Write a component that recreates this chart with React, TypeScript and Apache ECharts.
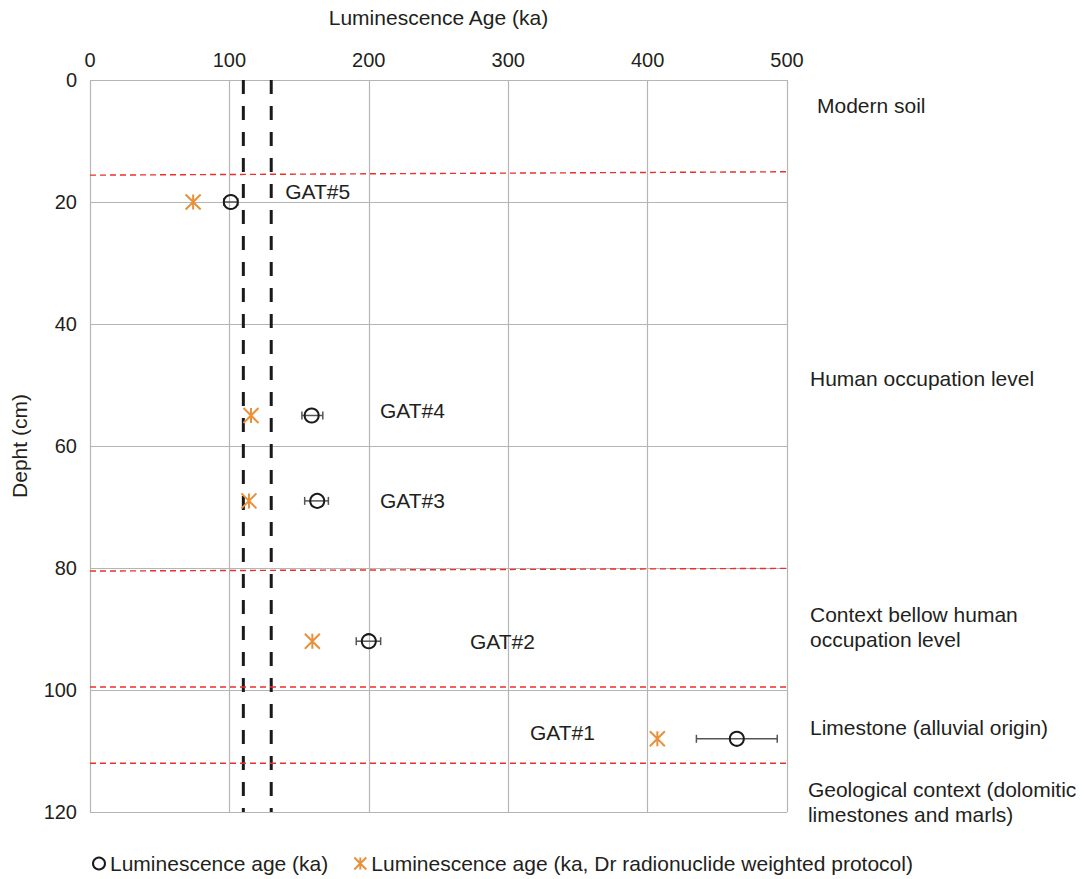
import React, { useEffect, useRef } from "react";
import * as echarts from "echarts";

// Sample depths (cm) and ages (ka)
const sampleNames = ["GAT#5", "GAT#4", "GAT#3", "GAT#2", "GAT#1"];
const sampleDepths = [20, 55, 69, 92, 108];
const ageLuminescence = [101, 159, 163, 200, 464];
const ageLow = [96, 152, 154, 191, 435];
const ageHigh = [106, 167, 171, 208.5, 493];
const ageDrWeighted = [74, 115.5, 114, 159.5, 407];

// Reference ages (ka) drawn as vertical dashed lines
const referenceAges = [110, 130];

// Stratigraphic boundaries: depth at the left edge, depth at the far end, age where the line stops
const boundaryDepthStart = [15.6, 80.5, 99.5, 112];
const boundaryDepthEnd = [14.9, 79.95, 99.5, 112];
const boundaryEndAge = [627.7, 625.5, 635.6, 635.6];

// Sample label anchors (age ka, depth cm)
const sampleLabelAge = [140, 208, 208, 272.6, 315.6];
const sampleLabelDepth = [18.2, 54.1, 68.9, 92.1, 107];

// Stratigraphic unit names and anchors
const unitNames = [
  "Modern soil",
  "Human occupation level",
  "Context bellow human\noccupation level",
  "Limestone (alluvial origin)",
  "Geological context (dolomitic\nlimestones and marls)",
];
const unitLabelAge = [521.5, 516.5, 516.5, 516.5, 515];
const unitLabelDepth = [4.1, 48.9, 89.7, 106.2, 118.4];

const xTicks = { min: 0, max: 500, interval: 100 };
const yTicks = { min: 0, max: 120, interval: 20 };

const FONT = "'Liberation Sans', Arial, Helvetica, sans-serif";
const TEXT = "#231f20";
const GRID = "#b5b5b5";
const ORANGE = "#e8913a";
const RED = "#e8302c";

const SERIES_A = "Luminescence age (ka)";
const SERIES_B = "Luminescence age (ka, Dr radionuclide weighted protocol)";

const ASTERISK = "path://M0,-1L0,1M-1,-1L1,1M-1,1L1,-1";

export default function App() {
  const ref = useRef<HTMLDivElement>(null);

  useEffect(() => {
    if (!ref.current) return;
    const chart = echarts.init(ref.current, undefined, { renderer: "svg" });

    const referenceSeries = referenceAges.map((a, i) => ({
      name: "ref" + i,
      type: "line",
      data: [
        [a, yTicks.min],
        [a, yTicks.max],
      ],
      symbol: "none",
      silent: true,
      z: 3,
      lineStyle: { color: "#1a1a1a", width: 3, type: [14, 12] },
    }));

    const boundarySeries = boundaryDepthStart.map((d, i) => ({
      name: "boundary" + i,
      type: "line",
      data: [
        [xTicks.min, d],
        [boundaryEndAge[i], boundaryDepthEnd[i]],
      ],
      symbol: "none",
      silent: true,
      clip: false,
      z: 4,
      lineStyle: { color: RED, width: 1.4, type: [6, 4] },
    }));

    const textLabel = {
      show: true,
      position: "right",
      distance: 0,
      fontSize: 21,
      color: TEXT,
      opacity: 1,
      fontFamily: FONT,
    };

    const option: any = {
      animation: false,
      backgroundColor: "#ffffff",
      textStyle: { fontFamily: FONT, color: TEXT },
      grid: { left: 90, right: 305, top: 80, bottom: 67, containLabel: false },
      xAxis: {
        type: "value",
        position: "top",
        min: xTicks.min,
        max: xTicks.max,
        interval: xTicks.interval,
        name: "Luminescence Age (ka)",
        nameLocation: "middle",
        nameGap: 52,
        nameTextStyle: { fontSize: 21, color: TEXT, fontFamily: FONT },
        axisLine: { show: false },
        axisTick: { show: false },
        axisLabel: { fontSize: 20, color: TEXT, margin: 10, fontFamily: FONT },
        splitLine: { show: true, lineStyle: { color: GRID, width: 1.2 } },
      },
      yAxis: {
        type: "value",
        inverse: true,
        min: yTicks.min,
        max: yTicks.max,
        interval: yTicks.interval,
        name: "Depht (cm)",
        nameLocation: "middle",
        nameGap: 60,
        nameTextStyle: { fontSize: 21, color: TEXT, fontFamily: FONT },
        axisLine: { show: false },
        axisTick: { show: false },
        axisLabel: { fontSize: 20, color: TEXT, margin: 13, fontFamily: FONT },
        splitLine: { show: true, lineStyle: { color: GRID, width: 1.2 } },
      },
      legend: {
        data: [SERIES_A, SERIES_B],
        left: 92,
        top: 853,
        padding: 0,
        itemWidth: 12,
        itemHeight: 12,
        itemGap: 25,
        textStyle: { fontSize: 21, color: TEXT, fontFamily: FONT },
      },
      series: [
        ...referenceSeries,
        ...boundarySeries,
        {
          name: "errors",
          type: "custom",
          silent: true,
          z: 5,
          data: sampleDepths.map((d, i) => [ageLow[i], ageHigh[i], d]),
          encode: { x: [0, 1], y: 2 },
          renderItem: (params: any, api: any) => {
            const lo = api.coord([api.value(0), api.value(2)]);
            const hi = api.coord([api.value(1), api.value(2)]);
            const cap = 4;
            const style = { stroke: "#555555", lineWidth: 1.5 };
            return {
              type: "group",
              children: [
                { type: "line", shape: { x1: lo[0], y1: lo[1], x2: hi[0], y2: hi[1] }, style },
                { type: "line", shape: { x1: lo[0], y1: lo[1] - cap, x2: lo[0], y2: lo[1] + cap }, style },
                { type: "line", shape: { x1: hi[0], y1: hi[1] - cap, x2: hi[0], y2: hi[1] + cap }, style },
              ],
            };
          },
        },
        {
          name: SERIES_A,
          type: "scatter",
          z: 6,
          symbol: "circle",
          symbolSize: 14,
          itemStyle: { color: "rgba(255,255,255,0)", borderColor: "#1a1a1a", borderWidth: 2, opacity: 1 },
          data: sampleDepths.map((d, i) => [ageLuminescence[i], d]),
        },
        {
          name: SERIES_B,
          type: "scatter",
          z: 6,
          symbol: ASTERISK,
          symbolSize: 15,
          itemStyle: { color: ORANGE, borderColor: ORANGE, borderWidth: 2, opacity: 1 },
          data: sampleDepths.map((d, i) => [ageDrWeighted[i], d]),
        },
        {
          name: "sampleLabels",
          type: "scatter",
          silent: true,
          symbolSize: 0,
          z: 7,
          itemStyle: { opacity: 1 },
          label: { ...textLabel, formatter: (p: any) => sampleNames[p.dataIndex] },
          data: sampleLabelAge.map((a, i) => [a, sampleLabelDepth[i]]),
        },
        {
          name: "unitLabels",
          type: "scatter",
          silent: true,
          clip: false,
          symbolSize: 0,
          z: 7,
          itemStyle: { opacity: 1 },
          label: { ...textLabel, lineHeight: 25, formatter: (p: any) => unitNames[p.dataIndex] },
          data: unitLabelAge.map((a, i) => [a, unitLabelDepth[i]]),
        },
      ],
    };

    chart.setOption(option);
    return () => chart.dispose();
  }, []);

  return (
    <div
      ref={ref}
      style={{ position: "fixed", left: 0, top: 0, width: 1092, height: 879, background: "#fff" }}
    />
  );
}
